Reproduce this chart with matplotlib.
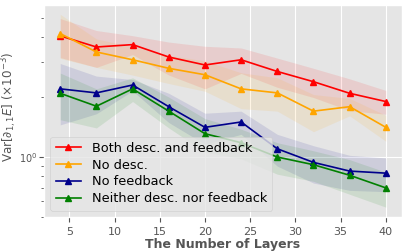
import numpy as np
import matplotlib
matplotlib.use("Agg")
import matplotlib.pyplot as plt
from matplotlib.ticker import NullFormatter

plt.style.use("ggplot")

layers = [4, 8, 12, 16, 20, 24, 28, 32, 36, 40]

# mean values (x10^-3)
both_mean = [4.06, 3.57, 3.67, 3.18, 2.90, 3.08, 2.69, 2.39, 2.09, 1.90]
nodesc_mean = [4.17, 3.37, 3.08, 2.79, 2.59, 2.20, 2.10, 1.70, 1.79, 1.41]
nofb_mean = [2.20, 2.10, 2.30, 1.79, 1.41, 1.50, 1.10, 0.94, 0.85, 0.83]
neither_mean = [2.09, 1.80, 2.20, 1.70, 1.31, 1.18, 1.00, 0.915, 0.81, 0.70]

# standard deviations
both_std = [0.90, 0.75, 0.40, 0.60, 0.70, 0.45, 0.45, 0.40, 0.38, 0.26]
nodesc_std = [1.04, 0.55, 0.50, 0.45, 0.45, 0.45, 0.40, 0.36, 0.18, 0.21]
nofb_std = [0.75, 0.45, 0.15, 0.30, 0.25, 0.20, 0.20, 0.20, 0.17, 0.16]
neither_std = [0.55, 0.40, 0.30, 0.30, 0.25, 0.20, 0.18, 0.16, 0.16, 0.14]

series = [
    ("Both desc. and feedback", both_mean, both_std, "red"),
    ("No desc.", nodesc_mean, nodesc_std, "orange"),
    ("No feedback", nofb_mean, nofb_std, "darkblue"),
    ("Neither desc. nor feedback", neither_mean, neither_std, "green"),
]

fig = plt.figure(figsize=(4.07, 2.52), dpi=100)
ax = fig.add_axes([0.108, 0.139, 0.88, 0.841])

x = np.array(layers)
for label, m, s, c in series:
    m = np.array(m)
    s = np.array(s)
    ax.plot(x, m, marker="^", markersize=4.5, linewidth=1.2, color=c, label=label)
    ax.fill_between(x, m - s, m + s, color=c, alpha=0.1, linewidth=0)

ax.set_yscale("log")
ax.set_ylim(0.5, 5.8)
ax.yaxis.set_minor_formatter(NullFormatter())
ax.set_xticks([5, 10, 15, 20, 25, 30, 35, 40])
ax.tick_params(axis="x", labelsize=8)
ax.tick_params(axis="y", labelsize=7, pad=1.5)

ax.set_xlabel("The Number of Layers", fontsize=9, fontweight="bold", labelpad=1)
ax.set_ylabel(r"Var[$\partial_{1,1}E$] ($\times10^{-3}$)", fontsize=8.6)
ax.yaxis.set_label_coords(-0.071, 0.52)

ax.legend(loc="lower left", fontsize=9.3, handlelength=2.0, labelspacing=0.3,
          borderaxespad=0.5)

fig.savefig("out.png", dpi=100)
